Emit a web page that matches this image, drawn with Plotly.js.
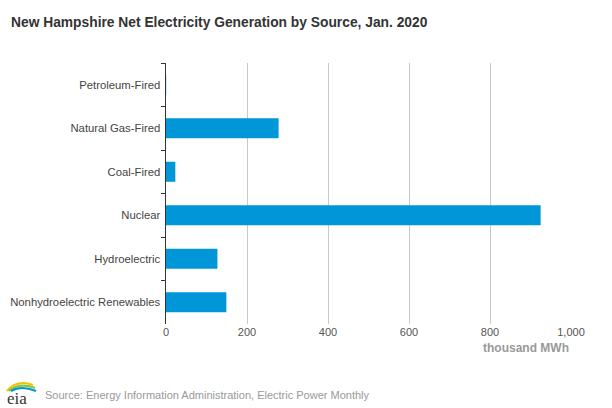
<!DOCTYPE html>
<html>
<head>
<meta charset="utf-8">
<script src="https://cdn.plot.ly/plotly-3.0.1.min.js"></script>
<style>html,body{margin:0;padding:0;background:#fff}#chart{width:612px;height:408px}</style>
</head>
<body>
<div id="chart"></div>
<script>
const categories = ["Petroleum-Fired", "Natural Gas-Fired", "Coal-Fired", "Nuclear", "Hydroelectric", "Nonhydroelectric Renewables"];
const values = [0.5, 278, 23, 925, 127, 149];
const xTickVals = [0, 200, 400, 600, 800, 1000];
const xTickText = ["0", "200", "400", "600", "800", "1,000"];

const logoSvg = '<svg xmlns="http://www.w3.org/2000/svg" width="40" height="30" viewBox="0 0 40 30">' +
  '<path d="M4 14 Q14 2 30 8" stroke="#f2c200" stroke-width="2.2" fill="none"/>' +
  '<path d="M6 14 Q16 5 32 11" stroke="#8cc63f" stroke-width="2.2" fill="none"/>' +
  '<path d="M8 14 Q18 8 33 14" stroke="#0096d7" stroke-width="2.2" fill="none"/>' +
  '<text x="4" y="27" font-family="Liberation Serif, serif" font-size="17" fill="#333">eia</text></svg>';

const trace = {
  type: 'bar',
  orientation: 'h',
  y: categories,
  x: values,
  marker: {color: '#0096d7'},
  width: 0.46,
  hoverinfo: 'x+y'
};

const layout = {
  width: 612, height: 408,
  margin: {l: 166, r: 41, t: 63, b: 84},
  paper_bgcolor: '#fff', plot_bgcolor: '#fff',
  font: {family: 'Liberation Sans, Arial, sans-serif', size: 11, color: '#555'},
  title: {
    text: '<b>New Hampshire Net Electricity Generation by Source, Jan. 2020</b>',
    x: 11/612, xanchor: 'left', xref: 'container', y: 1 - 22/408, yanchor: 'middle', yref: 'container',
    font: {family: 'Liberation Sans, Arial, sans-serif', size: 13.8, color: '#333'}
  },
  showlegend: false,
  bargap: 0.54,
  xaxis: {
    range: [0, 1000],
    tickvals: xTickVals, ticktext: xTickText,
    showgrid: true, gridcolor: '#c8c8c8', gridwidth: 1,
    zeroline: false, showline: false, ticks: '',
    tickfont: {size: 11, color: '#555'},
    fixedrange: true
  },
  yaxis: {
    type: 'category',
    categoryorder: 'array', categoryarray: categories,
    autorange: 'reversed',
    showline: true, linecolor: '#333', linewidth: 1.5,
    ticks: 'outside', tickson: 'boundaries', ticklen: 4, tickcolor: '#333', tickwidth: 1,
    showgrid: false, zeroline: false,
    tickfont: {size: 11.3, color: '#444'},
    ticklabelstandoff: 2,
    fixedrange: true
  },
  annotations: [
    {text: '<b>thousand MWh</b>', xref: 'paper', yref: 'paper', x: 1, y: -(348-324)/261, xanchor: 'right', yanchor: 'middle',
     showarrow: false, font: {size: 12, color: '#999'}},
    {text: 'Source: Energy Information Administration, Electric Power Monthly', xref: 'paper', yref: 'paper',
     x: -123/405, y: -(395-324)/261, xanchor: 'left', yanchor: 'middle', showarrow: false,
     font: {size: 11, color: '#999'}}
  ],
  images: [
    {source: 'data:image/svg+xml;charset=utf-8,' + encodeURIComponent(logoSvg),
     xref: 'paper', yref: 'paper', x: -163/405, y: -(377-324)/261, sizex: 40/405, sizey: 30/261,
     xanchor: 'left', yanchor: 'top', sizing: 'stretch', layer: 'above'}
  ]
};

Plotly.newPlot('chart', [trace], layout, {displayModeBar: false, staticPlot: true});
</script>
</body>
</html>
